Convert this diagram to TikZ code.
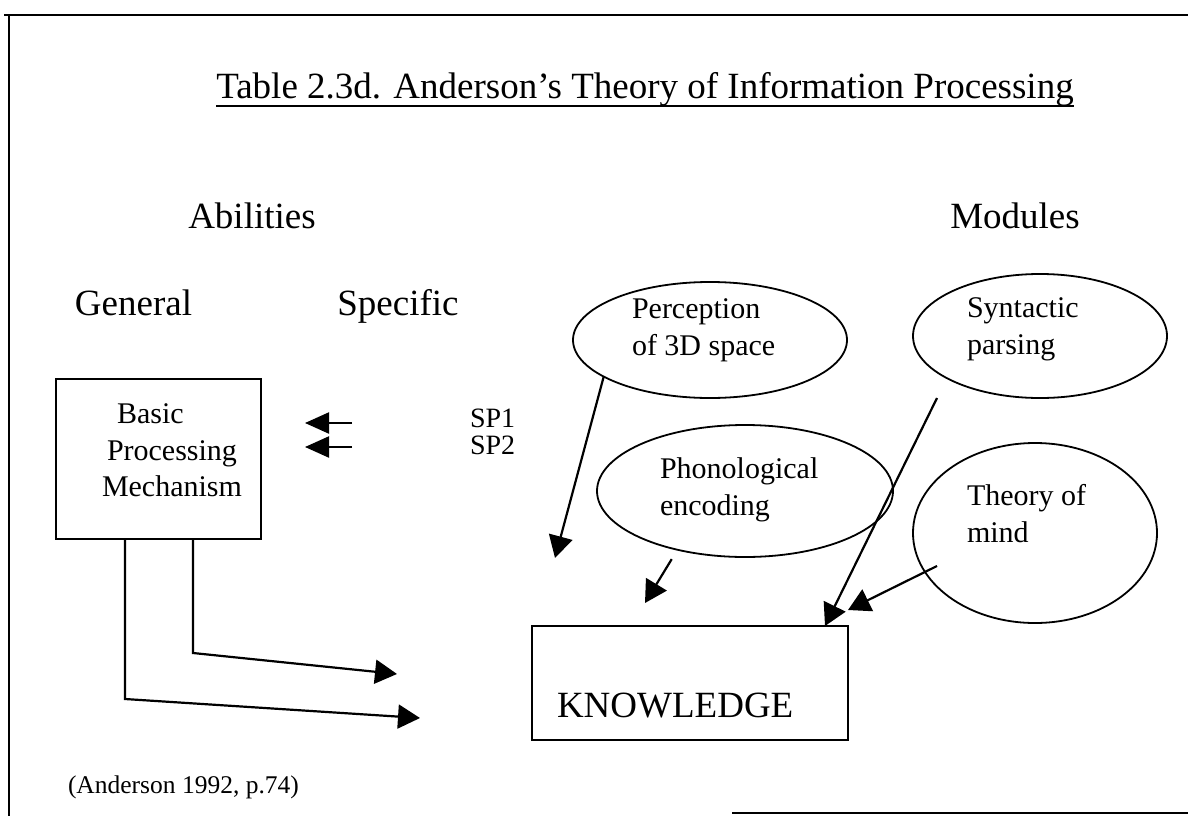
\documentclass[tikz,border=0pt]{standalone}
\usepackage{fontspec}
\setmainfont{Liberation Serif}
\usetikzlibrary{arrows.meta,shapes.geometric,calc}
\begin{document}
\begin{tikzpicture}[x=1pt,y=-1pt,
  every node/.style={inner sep=0pt, outer sep=0pt},
  frameline/.style={line width=2pt},
  heading/.style={font=\fontsize{37}{44}\selectfont},
  smalltxt/.style={font=\fontsize{30}{37}\selectfont, align=left},
  oval/.style={draw, ellipse, line width=1.8pt},
  boxnode/.style={draw, rectangle, line width=2pt},
  arr/.style={line width=2.2pt, -{Triangle[length=22pt,width=24pt]}},
  sparr/.style={line width=2.2pt, -{Triangle[length=24pt,width=21pt]}},
]
\useasboundingbox (0,0) rectangle (1188,816);

% frame
\draw[frameline] (4,15) -- (1188,15);
\draw[frameline] (9,15) -- (9,816);
\draw[frameline] (732,813) -- (1188,813);

% title
\node[heading, anchor=base] (title) at (645,98) {Table 2.3d. Anderson’s Theory of Information Processing};
\draw[line width=1.8pt] ([yshift=-8pt]title.base west) -- ([yshift=-8pt]title.base east);

% headings
\node[heading, anchor=base] (abil) at (252,228) {Abilities};
\node[heading, anchor=base] (modl) at (1015,228) {Modules};
\node[heading, anchor=base] (gen) at (133.5,315) {General};
\node[heading, anchor=base] (spec) at (398,315) {Specific};

% basic processing mechanism
\node[boxnode, minimum width=205pt, minimum height=160pt] (bpm) at (158.5,459) {};
\node[font=\fontsize{30}{36.5}\selectfont, align=left, anchor=north west] (bpmtxt) at (102,404)
  {\hspace*{15pt}Basic\\\hspace*{5pt}Processing\\Mechanism};

% SP arrows
\coordinate (spa1) at (352,423);
\coordinate (spb1) at (305,423);
\coordinate (spa2) at (352,447);
\coordinate (spb2) at (305,447);
\draw[sparr] (spa1) -- (spb1);
\draw[sparr] (spa2) -- (spb2);
\node[font=\fontsize{28}{27}\selectfont, align=left, anchor=north west] (sp) at (470,409) {SP1\\SP2};

% modules
\node[oval, minimum width=274pt, minimum height=116pt] (perc) at (710,340) {};
\node[smalltxt, anchor=north west] (perctxt) at (632,299) {Perception\\of 3D space};
\node[oval, minimum width=296pt, minimum height=132pt] (phon) at (745,491) {};
\node[smalltxt, anchor=north west] (phontxt) at (660,457.5) {Phonological\\encoding};
\node[oval, minimum width=254pt, minimum height=124pt] (synt) at (1040,336) {};
\node[smalltxt, anchor=north west] (synttxt) at (967,298) {Syntactic\\parsing};
\node[oval, minimum width=244pt, minimum height=180pt] (theo) at (1035,533) {};
\node[smalltxt, anchor=north west] (theotxt) at (967,484.5) {Theory of\\mind};

% knowledge
\node[boxnode, minimum width=316pt, minimum height=114pt] (know) at (690,683) {};
\node[heading, anchor=base west] (knowtxt) at (557,717) {KNOWLEDGE};

% module arrows
\coordinate (perctip) at (555,558);
\draw[arr] (perc.199) -- (perctip);
\coordinate (phontip) at (645,603);
\draw[arr, shorten <=11pt] (phon.221) -- (phontip);
\coordinate (syntstart) at (937,398);
\draw[arr] (syntstart) -- ($(know.north east)+(-23,0)$);
\coordinate (theostart) at (937,566);
\draw[arr] (theostart) -- ($(know.north east)+(0,-16)$);

% general arrows
\coordinate (gtip1) at (397,674);
\coordinate (gtip2) at (420,718);
\draw[arr] ([xshift=34.5pt]bpm.south) -- ++(0,114) -- (gtip1);
\draw[arr] ([xshift=-33.5pt]bpm.south) -- ++(0,160) -- (gtip2);

% citation
\node[font=\fontsize{25.5}{30}\selectfont, anchor=base west] (cite) at (68,793) {(Anderson 1992, p.74)};
\end{tikzpicture}
\end{document}
